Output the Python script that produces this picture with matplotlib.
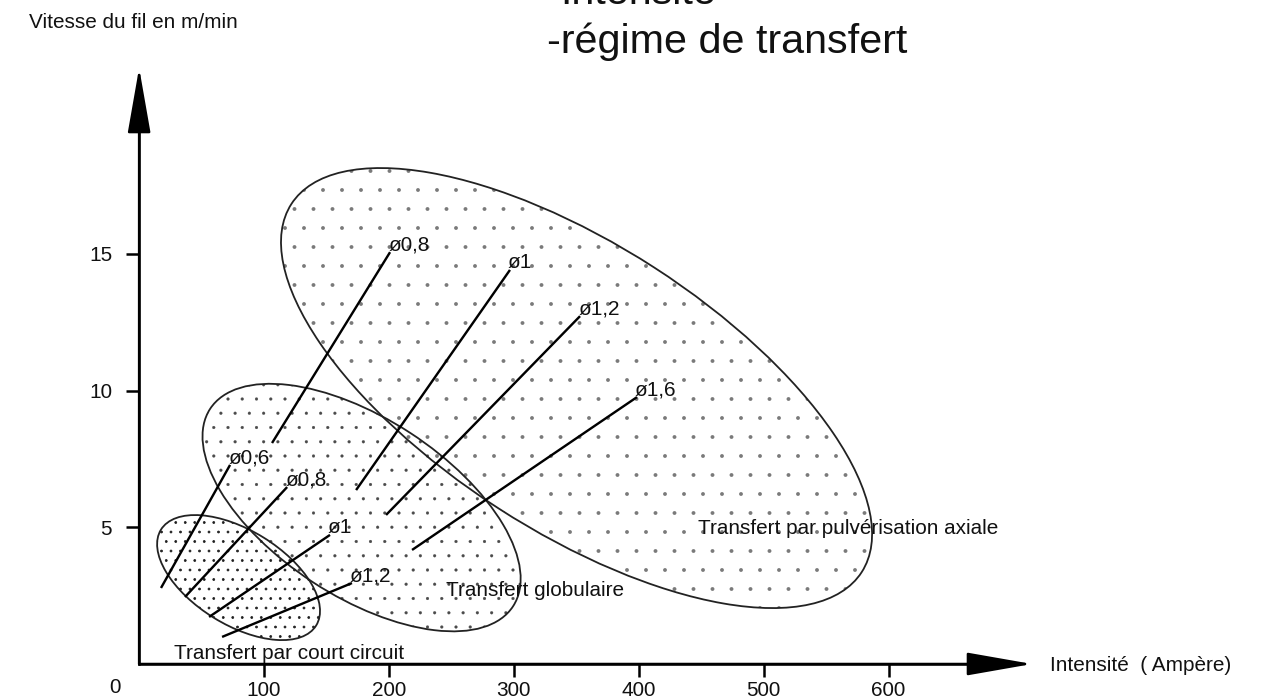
import matplotlib
matplotlib.use("Agg")
import matplotlib.pyplot as plt
from matplotlib.patches import Ellipse
from matplotlib.transforms import Affine2D

DPI = 342
W, H = 1262, 699


def pt(v):
    """pixels -> points at the figure dpi"""
    return v * 72.0 / DPI


# ---------------- data ----------------
x_ticks = [100, 200, 300, 400, 500, 600]
y_ticks = [5, 10, 15]

region_names = ["Transfert par pulvérisation axiale",
                "Transfert globulaire",
                "Transfert par court circuit"]
region_center_A = [350.2, 178.1, 79.6]
region_center_v = [10.09, 5.72, 3.16]
region_semi_major = [339.4, 180.8, 91.2]
region_semi_minor = [143.4, 89.1, 47.2]
region_tilt = [-32.85, -33.1, -31.7]
region_label_A = [447.5, 245.7, 27.9]
region_label_v = [4.97, 2.67, 0.40]

spray_labels = ["ø0,8", "ø1", "ø1,2", "ø1,6"]
spray_A0 = [106.4, 173.7, 197.7, 218.5]
spray_v0 = [8.08, 6.36, 5.45, 4.17]
spray_A1 = [200.9, 296.9, 353.0, 398.6]
spray_v1 = [15.06, 14.41, 12.72, 9.76]

glob_labels = ["ø0,6", "ø0,8", "ø1", "ø1,2"]
glob_A0 = [17.5, 36.7, 56.0, 66.4]
glob_v0 = [2.78, 2.45, 1.72, 0.99]
glob_A1 = [72.8, 118.5, 152.8, 170.4]
glob_v1 = [7.28, 6.47, 4.72, 2.96]

x_lim = (-111.4, 899.0)
y_lim = (-1.28, 24.28)
x_arrow_end = 715.0
y_arrow_end = 21.80

# ---------------- styles ----------------
plt.rcParams["font.family"] = ["Liberation Sans", "DejaVu Sans"]
FS = pt(20.8)
hatch_patterns = ["...", "....", "......"]
hatch_colors = ["#7a7a7a", "#4a4a4a", "#1e1e1e"]
hatch_lws = [0.01, 0.05, 0.17]

fig = plt.figure(figsize=(W / DPI, H / DPI), dpi=DPI)
ax = fig.add_axes([0, 0, 1, 1])
ax.set_xlim(*x_lim)
ax.set_ylim(*y_lim)
ax.set_facecolor("white")

kx = W / (x_lim[1] - x_lim[0])
ky = H / (y_lim[1] - y_lim[0])
shape_tr = Affine2D().scale(1.0 / kx, 1.0 / ky) + ax.transData

for i in range(3):
    with plt.rc_context({"hatch.linewidth": hatch_lws[i]}):
        e = Ellipse((region_center_A[i] * kx, region_center_v[i] * ky),
                    2 * region_semi_major[i], 2 * region_semi_minor[i],
                    angle=region_tilt[i], transform=shape_tr,
                    facecolor="none", edgecolor=hatch_colors[i],
                    linewidth=0, hatch=hatch_patterns[i], zorder=1)
    if hasattr(e, "set_hatch_linewidth"):
        e.set_hatch_linewidth(hatch_lws[i])
    ax.add_patch(e)
    ax.add_patch(Ellipse((region_center_A[i] * kx, region_center_v[i] * ky),
                         2 * region_semi_major[i], 2 * region_semi_minor[i],
                         angle=region_tilt[i], transform=shape_tr,
                         facecolor="none", edgecolor="#222222",
                         linewidth=pt(1.8), zorder=2))
    ax.text(region_label_A[i], region_label_v[i], region_names[i],
            fontsize=FS, ha="left", va="center", color="#111111", zorder=5)

for labels, A0, v0, A1, v1 in [(spray_labels, spray_A0, spray_v0, spray_A1, spray_v1),
                               (glob_labels, glob_A0, glob_v0, glob_A1, glob_v1)]:
    for lab, a0, b0, a1, b1 in zip(labels, A0, v0, A1, v1):
        ax.plot([a0, a1], [b0, b1], color="black", lw=pt(2.4),
                solid_capstyle="butt", zorder=3)
        ax.annotate(lab, xy=(a1, b1), xytext=(pt(-2), pt(7)),
                    textcoords="offset points", ha="left", va="center",
                    fontsize=FS, color="#111111", zorder=5)

# axes
for s in ["top", "right"]:
    ax.spines[s].set_visible(False)
ax.spines["left"].set_position(("data", 0))
ax.spines["bottom"].set_position(("data", 0))
ax.spines["left"].set_bounds(0, y_arrow_end - 1)
ax.spines["bottom"].set_bounds(0, x_arrow_end - 20)
for s in ["left", "bottom"]:
    ax.spines[s].set_linewidth(pt(2.5))
ax.set_xticks(x_ticks)
ax.set_xticklabels([str(t) for t in x_ticks])
ax.set_yticks(y_ticks)
ax.set_yticklabels([str(t) for t in y_ticks])
ax.tick_params(axis="x", direction="out", length=pt(13), width=pt(2.5),
               pad=pt(4), labelsize=FS, labelcolor="#111111")
ax.tick_params(axis="y", direction="out", length=pt(13), width=pt(2.5),
               pad=pt(14), labelsize=FS, labelcolor="#111111")

arrow_style = "-|>,head_length=%.3f,head_width=%.3f" % (pt(57), pt(10))
ax.annotate("", xy=(0, y_arrow_end), xytext=(0, 0),
            arrowprops=dict(arrowstyle=arrow_style, mutation_scale=1,
                            lw=pt(2.5), color="black", shrinkA=0, shrinkB=0),
            zorder=6)
ax.annotate("", xy=(x_arrow_end, 0), xytext=(0, 0),
            arrowprops=dict(arrowstyle=arrow_style, mutation_scale=1,
                            lw=pt(2.5), color="black", shrinkA=0, shrinkB=0),
            zorder=6)

ax.annotate("0", xy=(0, 0), xytext=(pt(-24), pt(-24)), textcoords="offset points",
            ha="center", va="center", fontsize=FS, color="#111111")
ax.annotate("Intensité  ( Ampère)", xy=(x_arrow_end, 0), xytext=(pt(18), pt(-2)),
            textcoords="offset points", ha="left", va="center",
            fontsize=FS, color="#111111")
fig.text(29 / W, 1 - 28 / H, "Vitesse du fil en m/min", fontsize=FS,
         ha="left", va="baseline", color="#111111")

TS = pt(41.3)
fig.text(560 / W, 1 - 4 / H, "Intensité", fontsize=TS, ha="left",
         va="baseline", color="#111111")
fig.text(547 / W, 1 - 53 / H, "-régime de transfert", fontsize=TS, ha="left",
         va="baseline", color="#111111")

fig.savefig("out.png", dpi=DPI, facecolor="white")
